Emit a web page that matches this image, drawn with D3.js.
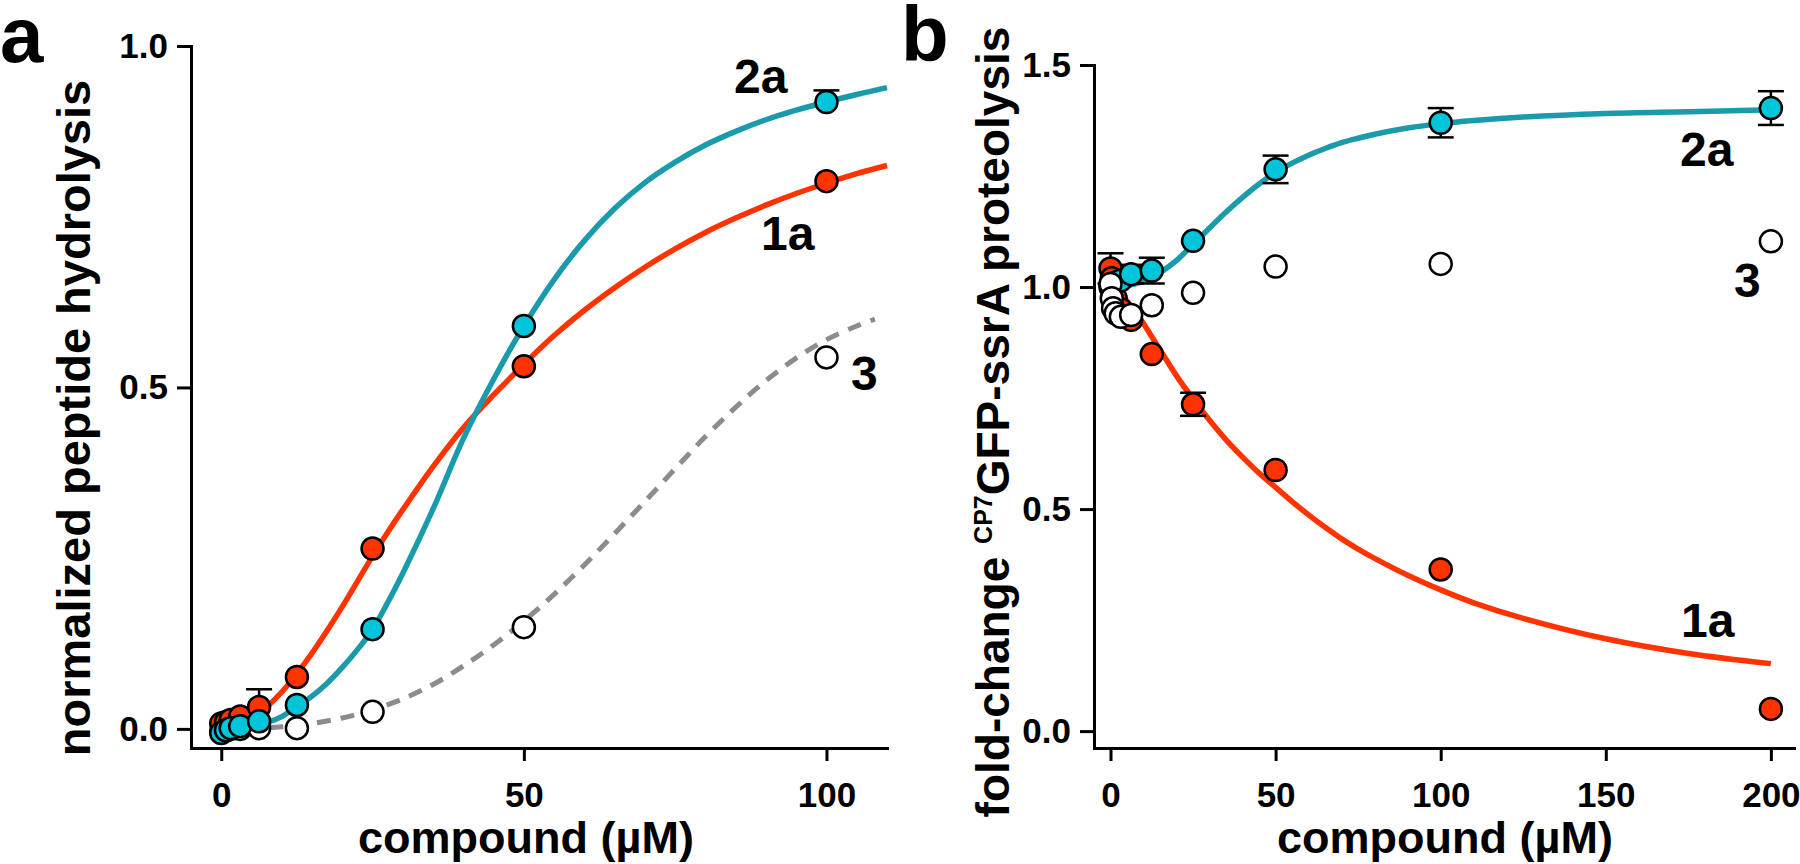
<!DOCTYPE html>
<html><head><meta charset="utf-8">
<script src="https://cdn.jsdelivr.net/npm/d3@7"></script>
<style>
body{margin:0;background:#fff}
svg{display:block}
text{font-family:"Liberation Sans",Arial,sans-serif;font-weight:bold;fill:#000}
</style>
</head><body>
<svg id="chart" width="1800" height="864"></svg>
<script>
// ---------- Panel a data ----------
const concA = [0, 0.78, 1.56, 3.125, 6.25, 12.5, 25, 50, 100];
const a1a   = [0.008, 0.010, 0.013, 0.018, 0.032, 0.076, 0.264, 0.531, 0.802];
const a1aErr= [0, 0, 0, 0, 0.026, 0, 0, 0, 0];
const a2a   = [-0.006, -0.002, 0.001, 0.004, 0.011, 0.035, 0.146, 0.590, 0.918];
const a2aErr= [0, 0, 0, 0, 0, 0, 0, 0, 0.017];
const a3    = [-0.004, -0.002, 0.0, 0.0, 0.001, 0.001, 0.025, 0.149, 0.544];

const fitAx  = [0, 2.5, 5, 7.5, 10, 12.5, 15, 17.5, 20, 22.5, 25, 27.5, 30, 35, 40, 45, 50, 55, 60, 65, 70, 75, 80, 85, 90, 95, 100, 105, 110];
const fitA1a = [0, 0.004, 0.015, 0.032, 0.054, 0.081, 0.111, 0.144, 0.179, 0.216, 0.253, 0.288, 0.321, 0.384, 0.441, 0.489, 0.534, 0.576, 0.613, 0.646, 0.676, 0.703, 0.727, 0.748, 0.767, 0.784, 0.799, 0.813, 0.825];
const fitA2a = [0, 0.001, 0.004, 0.009, 0.018, 0.033, 0.048, 0.067, 0.09, 0.116, 0.146, 0.185, 0.228, 0.322, 0.425, 0.512, 0.59, 0.658, 0.715, 0.762, 0.80, 0.83, 0.855, 0.875, 0.892, 0.906, 0.918, 0.929, 0.939];
const fitA3x = [0, 5, 10, 15, 20, 25, 30, 35, 40, 45, 50, 55, 60, 65, 70, 75, 80, 85, 90, 95, 100, 105, 108];
const fitA3  = [0, 0.001, 0.003, 0.008, 0.016, 0.028, 0.044, 0.065, 0.092, 0.123, 0.158, 0.197, 0.24, 0.286, 0.333, 0.381, 0.428, 0.471, 0.51, 0.543, 0.57, 0.59, 0.60];

const ticksAx = [0, 50, 100];
const ticksAy = [0, 0.5, 1.0];

// ---------- Panel b data ----------
const concB = [0, 0.39, 0.78, 1.56, 3.125, 6.25, 12.5, 25, 50, 100, 200];
const b1a   = [1.042, 1.02, 1.0, 0.975, 0.95, 0.926, 0.849, 0.736, 0.588, 0.364, 0.050];
const b1aErr= [0.034, 0, 0, 0, 0, 0, 0, 0.026, 0, 0, 0];
const b2a   = [1.0, 1.0, 1.005, 1.01, 1.015, 1.029, 1.037, 1.104, 1.265, 1.370, 1.403];
const b2aErr= [0, 0, 0, 0, 0, 0.021, 0.029, 0, 0.031, 0.033, 0.038];
const b3    = [1.007, 0.975, 0.952, 0.941, 0.933, 0.937, 0.959, 0.987, 1.046, 1.052, 1.103];

const fitBx  = [0, 2.5, 5, 7.5, 10, 12.5, 15, 20, 25, 30, 35, 40, 45, 50, 55, 60, 65, 70, 75, 80, 90, 100, 110, 125, 150, 175, 200];
const fitB2a = [1.0, 1.001, 1.003, 1.007, 1.013, 1.021, 1.032, 1.06, 1.096, 1.133, 1.169, 1.202, 1.232, 1.258, 1.279, 1.297, 1.312, 1.325, 1.335, 1.344, 1.358, 1.368, 1.375, 1.383, 1.391, 1.395, 1.399];
const fitB1a = [1.0, 0.988, 0.968, 0.945, 0.918, 0.888, 0.859, 0.80, 0.748, 0.700, 0.656, 0.617, 0.581, 0.549, 0.517, 0.487, 0.459, 0.433, 0.41, 0.389, 0.351, 0.318, 0.289, 0.254, 0.208, 0.175, 0.152];

const ticksBx = [0, 50, 100, 150, 200];
const ticksBy = [0, 0.5, 1.0, 1.5];

// ---------- styles ----------
const RED = "#FF3300", CYAN = "#00C4DA", TEAL = "#1A9BAB", GRAY = "#8C8C8C";

const svg = d3.select("#chart");
svg.append("rect").attr("width",1800).attr("height",864).attr("fill","#fff");

function drawAxes(g, x, y, xt, yt){
  const xa = g.append("g").attr("transform",`translate(0,${y.range()[0]})`)
    .call(d3.axisBottom(x).tickValues(xt).tickSize(13).tickSizeOuter(0).tickPadding(21).tickFormat(d3.format("d")));
  const ya = g.append("g").attr("transform",`translate(${x.range()[0]},0)`)
    .call(d3.axisLeft(y).tickValues(yt).tickSize(14).tickSizeOuter(0).tickPadding(9).tickFormat(d3.format(".1f")));
  [xa, ya].forEach(a=>{
    a.selectAll("path.domain").attr("stroke","#000").attr("stroke-width",3).attr("stroke-linecap","square");
    a.selectAll(".tick line").attr("stroke","#000").attr("stroke-width",3);
    a.selectAll(".tick text").style("font-size","35px").style("font-family",'"Liberation Sans",Arial,sans-serif').style("font-weight","bold").attr("fill","#000");
  });
}

function drawCurve(g, x, y, xs, ys, color, width, dash){
  const line = d3.line().x(d=>x(d[0])).y(d=>y(d[1])).curve(d3.curveCatmullRom.alpha(0.5));
  const p = g.append("path").datum(d3.zip(xs, ys)).attr("d", line)
    .attr("fill","none").attr("stroke",color).attr("stroke-width",width).attr("stroke-linecap","butt");
  if (dash) p.attr("stroke-dasharray", dash);
}

function drawErr(g, x, y, xs, vs, es, both){
  xs.forEach((c,i)=>{
    const e = es[i]; if(!e) return;
    const cx = x(c), top = y(vs[i]+e), bot = both ? y(vs[i]-e) : y(vs[i]);
    g.append("line").attr("x1",cx).attr("x2",cx).attr("y1",top).attr("y2",bot).attr("stroke","#000").attr("stroke-width",2.5);
    g.append("line").attr("x1",cx-13).attr("x2",cx+13).attr("y1",top).attr("y2",top).attr("stroke","#000").attr("stroke-width",2.5);
    if (both) g.append("line").attr("x1",cx-13).attr("x2",cx+13).attr("y1",bot).attr("y2",bot).attr("stroke","#000").attr("stroke-width",2.5);
  });
}

function drawPts(g, x, y, xs, vs, fill){
  g.append("g").selectAll("circle").data(d3.zip(xs, vs)).join("circle")
    .attr("cx",d=>x(d[0])).attr("cy",d=>y(d[1])).attr("r",11)
    .attr("fill",fill).attr("stroke","#000").attr("stroke-width",2.5);
}

function label(g, txt, x, y, size){
  g.append("text").attr("x",x).attr("y",y).style("font-size",size+"px").text(txt);
}

// ---------- Panel a ----------
const ga = svg.append("g");
const xA = d3.scaleLinear().domain([-5,110]).range([191,887]);
const yA = d3.scaleLinear().domain([-0.028,1]).range([748,46]);
drawAxes(ga, xA, yA, ticksAx, ticksAy);
drawCurve(ga, xA, yA, fitA3x, fitA3, GRAY, 5, "14,10");
drawCurve(ga, xA, yA, fitAx, fitA1a, RED, 5.5);
drawCurve(ga, xA, yA, fitAx, fitA2a, TEAL, 5.5);
drawErr(ga, xA, yA, concA, a1a, a1aErr, false);
drawErr(ga, xA, yA, concA, a2a, a2aErr, false);
drawPts(ga, xA, yA, concA, a3, "#fff");
drawPts(ga, xA, yA, concA, a1a, RED);
drawPts(ga, xA, yA, concA, a2a, CYAN);
label(ga, "2a", 734, 93, 48);
label(ga, "1a", 761, 250, 48);
label(ga, "3", 851, 390, 48);
ga.append("text").attr("x",0).attr("y",62).style("font-size","78px").text("a");
ga.append("text").attr("transform","translate(90,418) rotate(-90)").attr("text-anchor","middle")
  .style("font-size","47px").text("normalized peptide hydrolysis");
ga.append("text").attr("x",526).attr("y",853).attr("text-anchor","middle").style("font-size","45px").text("compound (µM)");

// ---------- Panel b ----------
const gb = svg.append("g");
const xB = d3.scaleLinear().domain([-5,207]).range([1094,1794]);
const yB = d3.scaleLinear().domain([-0.038,1.5]).range([748,65]);
drawAxes(gb, xB, yB, ticksBx, ticksBy);
drawCurve(gb, xB, yB, fitBx, fitB2a, TEAL, 5.5);
drawCurve(gb, xB, yB, fitBx, fitB1a, RED, 5.5);
drawErr(gb, xB, yB, concB, b1a, b1aErr, true);
drawErr(gb, xB, yB, concB, b2a, b2aErr, true);
drawPts(gb, xB, yB, concB, b1a, RED);
drawPts(gb, xB, yB, concB, b2a, CYAN);
drawPts(gb, xB, yB, concB, b3, "#fff");
label(gb, "2a", 1680, 166, 48);
label(gb, "3", 1734, 297, 48);
label(gb, "1a", 1681, 637, 48);
gb.append("text").attr("x",901).attr("y",61).style("font-size","78px").text("b");
const yl = gb.append("text").attr("transform","translate(1009,422) rotate(-90)").attr("text-anchor","middle").style("font-size","46px");
yl.append("tspan").text("fold-change ");
yl.append("tspan").attr("dy",-17).style("font-size","25px").text("CP7");
yl.append("tspan").attr("dy",17).text("GFP-ssrA proteolysis");
gb.append("text").attr("x",1445).attr("y",853).attr("text-anchor","middle").style("font-size","45px").text("compound (µM)");
</script>
</body></html>
